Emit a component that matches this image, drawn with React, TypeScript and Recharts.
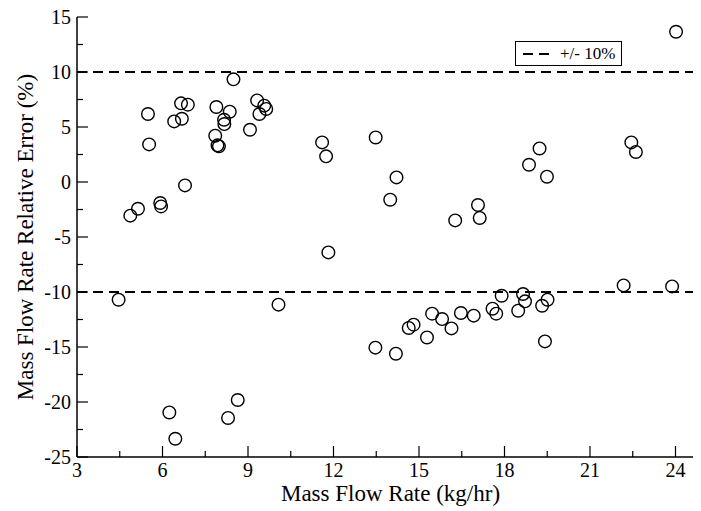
/**
 * MassFlowErrorChart - relative error of mass flow rate vs flow rate, with +/-10% bands
 */
import React from 'react';
import {
  ScatterChart,
  Scatter,
  XAxis,
  YAxis,
  ReferenceLine,
  Legend,
} from 'recharts';

const flowRate = [
  5.49, 5.53, 4.87, 5.14, 5.92, 5.95, 6.41, 6.65, 6.68, 6.89,
  6.79, 7.89, 7.85, 7.93, 7.98, 8.16, 8.17, 8.36, 8.49, 9.07,
  9.32, 9.40, 9.57, 9.64, 11.60, 11.74, 13.48, 24.02, 14.21, 13.99,
  16.27, 17.07, 17.13, 18.86, 19.23, 19.49, 22.45, 22.61, 4.46, 11.82,
  10.07, 13.47, 6.24, 6.45, 8.30, 8.64, 14.19, 14.64, 14.81, 15.28,
  15.46, 15.81, 16.14, 16.47, 16.92, 17.58, 17.71, 17.90, 18.48, 18.65,
  18.72, 19.32, 19.51, 19.42, 22.18, 23.88,
];
const relError = [
  6.18, 3.42, -3.06, -2.43, -1.91, -2.22, 5.51, 7.15, 5.75, 7.03,
  -0.31, 6.82, 4.21, 3.33, 3.24, 5.66, 5.27, 6.39, 9.33, 4.75,
  7.42, 6.18, 6.94, 6.64, 3.60, 2.33, 4.05, 13.66, 0.42, -1.61,
  -3.49, -2.09, -3.27, 1.57, 3.05, 0.48, 3.60, 2.73, -10.70, -6.40,
  -11.15, -15.06, -20.95, -23.34, -21.45, -19.82, -15.61, -13.27, -12.97, -14.13,
  -11.97, -12.46, -13.31, -11.91, -12.15, -11.52, -11.97, -10.34, -11.70, -10.18,
  -10.85, -11.25, -10.70, -14.49, -9.40, -9.49,
];

const xTicks = [3, 4.5, 6, 7.5, 9, 10.5, 12, 13.5, 15, 16.5, 18, 19.5, 21, 22.5, 24];
const xMajor = [3, 6, 9, 12, 15, 18, 21, 24];
const yTicks = [15, 12.5, 10, 7.5, 5, 2.5, 0, -2.5, -5, -7.5, -10, -12.5, -15, -17.5, -20, -22.5, -25];
const yMajor = [15, 10, 5, 0, -5, -10, -15, -20, -25];
const bounds = [10, -10];

const chartData = flowRate.map((x, i) => ({ x, y: relError[i] }));

const FONT = 'Liberation Serif, DejaVu Serif, serif';
const MAJOR_LEN = 11;
const MINOR_LEN = 6;

const BottomTick = (props: any) => {
  const { x, y, payload } = props;
  const major = xMajor.includes(payload.value);
  return (
    <g>
      <line x1={x} y1={y} x2={x} y2={y - (major ? MAJOR_LEN : MINOR_LEN)} stroke="#000" strokeWidth={1.2} />
      {major && (
        <text x={x} y={y + 20} textAnchor="middle" fontSize={20} fontFamily={FONT} fill="#000">
          {payload.value}
        </text>
      )}
    </g>
  );
};

const TopTick = (props: any) => {
  const { x, y, payload } = props;
  const major = xMajor.includes(payload.value);
  return <line x1={x} y1={y} x2={x} y2={y + (major ? MAJOR_LEN : MINOR_LEN)} stroke="#000" strokeWidth={1.2} />;
};

const LeftTick = (props: any) => {
  const { x, y, payload } = props;
  const major = yMajor.includes(payload.value);
  return (
    <g>
      <line x1={x} y1={y} x2={x + (major ? MAJOR_LEN : MINOR_LEN)} y2={y} stroke="#000" strokeWidth={1.2} />
      {major && (
        <text x={x - 6} y={y + 7} textAnchor="end" fontSize={20} fontFamily={FONT} fill="#000">
          {payload.value}
        </text>
      )}
    </g>
  );
};

const RightTick = (props: any) => {
  const { x, y, payload } = props;
  const major = yMajor.includes(payload.value);
  return <line x1={x} y1={y} x2={x - (major ? MAJOR_LEN : MINOR_LEN)} y2={y} stroke="#000" strokeWidth={1.2} />;
};

const XTitle = (props: any) => {
  const { viewBox } = props;
  return (
    <text
      x={viewBox.x + viewBox.width / 2}
      y={viewBox.y + viewBox.height - 10}
      textAnchor="middle"
      fontSize={23}
      fontFamily={FONT}
      fill="#000"
    >
      Mass Flow Rate (kg/hr)
    </text>
  );
};

const YTitle = (props: any) => {
  const { viewBox } = props;
  const cx = viewBox.x + 33;
  const cy = viewBox.y + viewBox.height / 2;
  return (
    <text
      x={cx}
      y={cy}
      transform={`rotate(-90, ${cx}, ${cy})`}
      textAnchor="middle"
      fontSize={23}
      fontFamily={FONT}
      fill="#000"
    >
      Mass Flow Rate Relative Error (%)
    </text>
  );
};

const LegendBox = () => (
  <div
    style={{
      border: '1px solid #000',
      background: '#fff',
      display: 'flex',
      alignItems: 'center',
      padding: '2px 6px 2px 7px',
      fontFamily: FONT,
      fontSize: 17,
      lineHeight: '19px',
      color: '#000',
    }}
  >
    <svg width={26} height={10} style={{ marginRight: 11 }}>
      <line x1={0} y1={5} x2={26} y2={5} stroke="#000" strokeWidth={2} strokeDasharray="10 6" />
    </svg>
    <span>+/- 10%</span>
  </div>
);

const Circle = (props: any) => (
  <circle cx={props.cx} cy={props.cy} r={6.3} fill="none" stroke="#000" strokeWidth={1.4} />
);

const App: React.FC = () => {
  return (
    <div style={{ marginLeft: -8, marginTop: -8, width: 701, height: 511, overflow: 'hidden', background: '#fff' }}>
      <ScatterChart width={704} height={511} margin={{ top: 17, right: 0, bottom: 0, left: 0 }}>
        <XAxis
          xAxisId="bottom"
          type="number"
          dataKey="x"
          domain={[3, 25]}
          ticks={xTicks}
          interval={0}
          height={54}
          tickSize={0}
          tickMargin={0}
          tickLine={false}
          axisLine={{ stroke: '#000', strokeWidth: 1.5 }}
          tick={<BottomTick />}
          label={<XTitle />}
        />
        <XAxis
          xAxisId="top"
          orientation="top"
          type="number"
          dataKey="x"
          domain={[3, 25]}
          ticks={xTicks}
          interval={0}
          height={0}
          tickSize={0}
          tickMargin={0}
          tickLine={false}
          axisLine={{ stroke: '#000', strokeWidth: 1.5 }}
          tick={<TopTick />}
        />
        <YAxis
          yAxisId="left"
          type="number"
          dataKey="y"
          domain={[-25, 15]}
          ticks={yTicks}
          interval={0}
          width={77}
          tickSize={0}
          tickMargin={0}
          tickLine={false}
          axisLine={{ stroke: '#000', strokeWidth: 1.5 }}
          tick={<LeftTick />}
          label={<YTitle />}
        />
        <YAxis
          yAxisId="right"
          orientation="right"
          type="number"
          dataKey="y"
          domain={[-25, 15]}
          ticks={yTicks}
          interval={0}
          width={0}
          tickSize={0}
          tickMargin={0}
          tickLine={false}
          axisLine={{ stroke: '#000', strokeWidth: 1.5 }}
          tick={<RightTick />}
        />
        {bounds.map((b) => (
          <ReferenceLine
            key={b}
            xAxisId="bottom"
            yAxisId="left"
            y={b}
            stroke="#000"
            strokeWidth={2}
            strokeDasharray="10 6"
          />
        ))}
        <Scatter
          xAxisId="bottom"
          yAxisId="left"
          data={chartData}
          shape={<Circle />}
          isAnimationActive={false}
        />
        <Legend
          verticalAlign="middle"
          align="center"
          content={<LegendBox />}
          wrapperStyle={{ left: 515, top: 41, width: 'auto', height: 'auto' }}
        />
      </ScatterChart>
    </div>
  );
};

export default App;
